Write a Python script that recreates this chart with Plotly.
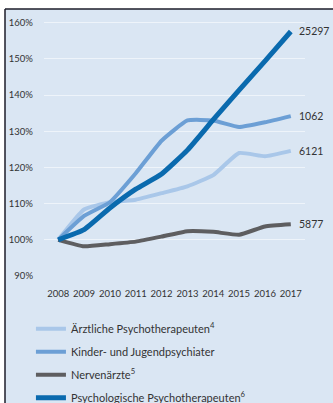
import plotly.graph_objects as go

years = [2008, 2009, 2010, 2011, 2012, 2013, 2014, 2015, 2016, 2017]
series_names = [
    "Ärztliche Psychotherapeuten<sup>4</sup>",
    "Kinder- und Jugendpsychiater",
    "Nervenärzte<sup>5</sup>",
    "Psychologische Psychotherapeuten<sup>6</sup>",
]
aerztliche = [100, 108.4, 110.4, 111.1, 112.9, 114.8, 117.9, 124.0, 123.1, 124.6]
kinder = [100, 106.6, 110.4, 118.4, 127.4, 133.0, 133.0, 131.2, 132.5, 134.2]
nerven = [100, 98.2, 98.8, 99.5, 100.9, 102.4, 102.2, 101.4, 103.7, 104.3]
psycho = [100, 102.8, 108.8, 114.0, 118.2, 124.8, 133.2, 141.4, 149.4, 157.6]
end_labels = ["6121", "1062", "5877", "25297"]
y_ticks = [90, 100, 110, 120, 130, 140, 150, 160]
y_tick_labels = ["90%", "100%", "110%", "120%", "130%", "140%", "150%", "160%"]

values = [aerztliche, kinder, nerven, psycho]
colors = ["#a9c7e9", "#6c9fd5", "#5e5e60", "#0a6aae"]
widths = [4, 4, 4, 5]

BG = "#dae6f3"
fig = go.Figure()
for name, vals, col, w in zip(series_names, values, colors, widths):
    fig.add_trace(go.Scatter(
        x=years, y=vals, mode="lines", name=name,
        line=dict(color=col, width=w, shape="spline", smoothing=0.4),
        legendgroup=name,
    ))

for vals, lab in zip(values, end_labels):
    fig.add_annotation(x=years[-1], y=vals[-1], text=lab, showarrow=False,
                       xanchor="left", yanchor="middle", xshift=6,
                       font=dict(family="Lato", size=10.5, color="#333333"))

fig.update_layout(
    width=333, height=403,
    margin=dict(l=44, r=28, t=21, b=127, autoexpand=False),
    paper_bgcolor=BG, plot_bgcolor=BG,
    font=dict(family="Lato", color="#333333"),
    showlegend=True,
    legend=dict(orientation="v", x=-0.05, y=(276 - 403) / 255 - 0.036, xanchor="left", yanchor="bottom",
                bgcolor="rgba(0,0,0,0)", font=dict(family="Lato", size=11, color="#333333"),
                tracegroupgap=4, itemwidth=30),
    xaxis=dict(range=[2007.45, 2017.55], tickvals=years, showgrid=False, zeroline=False,
               showline=False, ticks="", ticklabelstandoff=10,
               tickfont=dict(family="Lato", size=9.5, color="#333333")),
    yaxis=dict(range=[90, 160.5], tickmode="array", tickvals=y_ticks, ticktext=y_tick_labels,
               showgrid=True, gridcolor="rgba(255,255,255,0.55)", gridwidth=1, zeroline=False,
               showline=False, ticks="", ticklabelstandoff=10,
               tickfont=dict(family="Lato", size=9.5, color="#333333")),
)

# white outside frame + dark border (left and top)
fig.add_shape(type="rect", xref="paper", yref="paper", x0=-0.2, x1=(5 - 44) / 261,
              y0=-0.6, y1=1.1, fillcolor="white", line_width=0, layer="below")
fig.add_shape(type="rect", xref="paper", yref="paper", x0=-0.2, x1=1.2,
              y0=(276 - 9) / 255, y1=1.1, fillcolor="white", line_width=0, layer="below")
fig.add_shape(type="line", xref="paper", yref="paper", x0=(5 - 44) / 261, x1=(5 - 44) / 261,
              y0=-0.6, y1=(276 - 9) / 255, line=dict(color="#1c1c2a", width=1.5))
fig.add_shape(type="line", xref="paper", yref="paper", x0=(5 - 44) / 261, x1=1.2,
              y0=(276 - 9) / 255, y1=(276 - 9) / 255, line=dict(color="#1c1c2a", width=1.5))

fig.write_html("out.html")
